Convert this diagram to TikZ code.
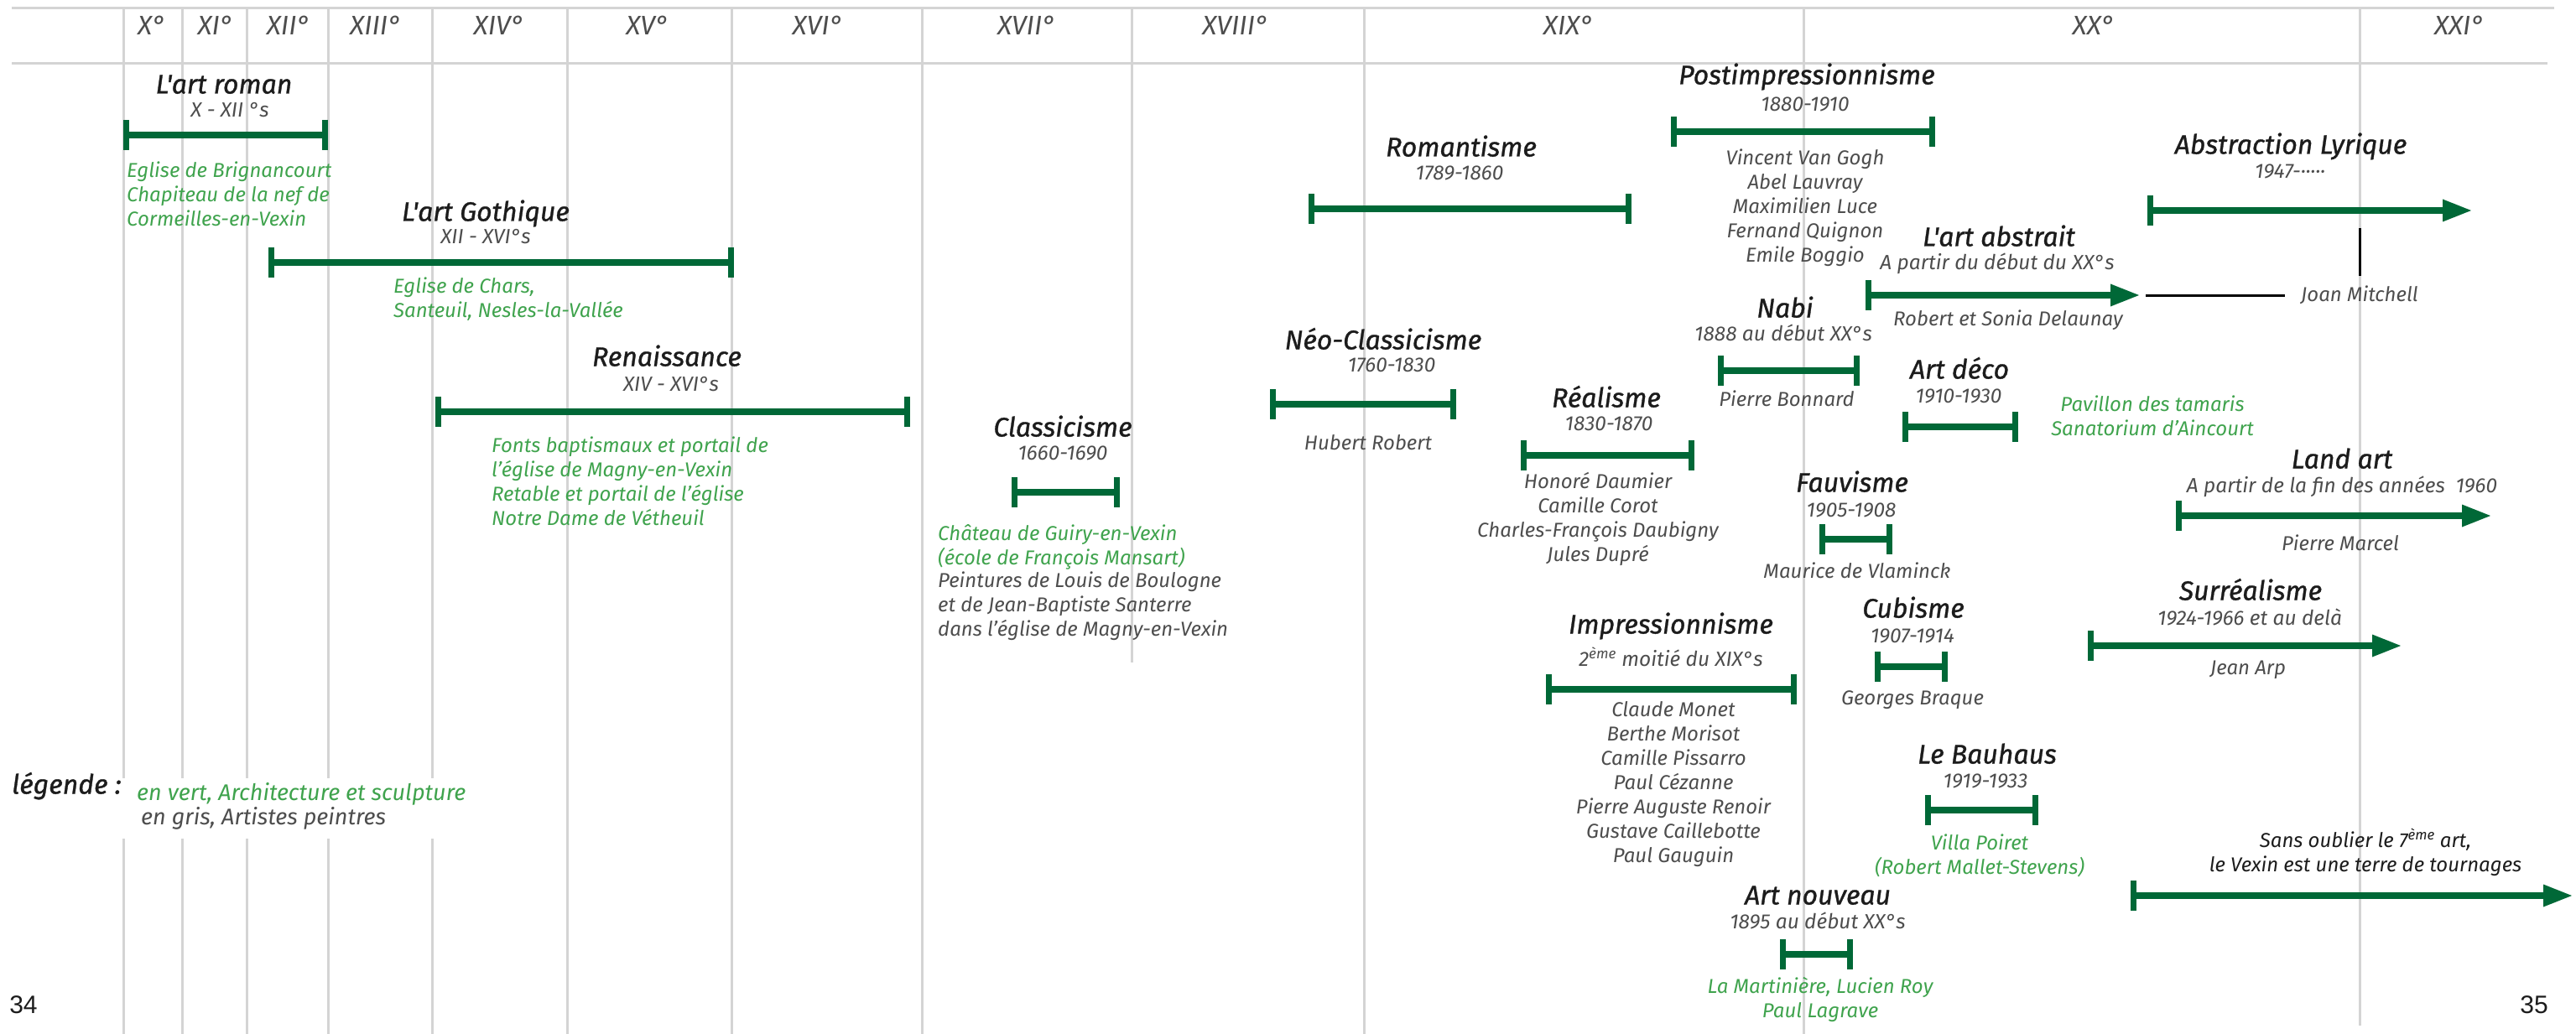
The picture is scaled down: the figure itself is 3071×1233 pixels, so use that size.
\documentclass[tikz,border=0pt]{standalone}
\usepackage{fontspec}
\setmainfont{Fira Sans}
\newfontfamily\grasse{Fira Sans}[FakeBold=1]
\newfontfamily\chiffres{Liberation Sans}
\usetikzlibrary{arrows.meta,calc}

\definecolor{vertfrise}{HTML}{006837}
\definecolor{vertarchi}{HTML}{3FA34D}
\definecolor{grispeint}{HTML}{4D4D4D}
\definecolor{grisgrille}{HTML}{D4D4D4}
\definecolor{noirtitre}{HTML}{1C1C1C}

\tikzset{periode/.style  = {line width=8pt, color=vertfrise,
                            {Bar[width=36pt,line width=7pt]}-{Bar[width=36pt,line width=7pt]}},
         suite/.style    = {line width=8pt, color=vertfrise,
                            {Bar[width=36pt,line width=7pt]}-{Triangle[length=34pt,width=27pt,line width=0pt]}},
         titre/.style    = {inner sep=0pt, text=noirtitre, text height=0.7em, text depth=0pt,
                            font=\grasse\fontsize{32}{36}\selectfont\itshape},
         dates/.style    = {inner sep=0pt, text=grispeint, text height=0.7em, text depth=0pt,
                            font=\fontsize{24.5}{28}\selectfont\itshape},
         peintres/.style = {inner sep=0pt, text=grispeint, align=center,
                            font=\fontsize{24}{29}\selectfont\itshape},
         archi/.style    = {peintres, text=vertarchi},
         legende/.style  = {font=\fontsize{27}{29}\selectfont\itshape},
         siecle/.style   = {inner sep=0pt, text=grispeint, text height=0.7em, text depth=0pt,
                            font=\fontsize{32}{36}\selectfont\itshape},
         numero/.style   = {inner sep=0pt, text=noirtitre, text height=0.72em, text depth=0pt,
                            font=\chiffres\fontsize{30}{34}\selectfont},
         grille/.style   = {line width=3pt, color=grisgrille},
         lien/.style     = {line width=3pt, color=black}
        }

\begin{document}
\begin{tikzpicture}[x=1pt, y=-1pt]
  \useasboundingbox (0, 0) rectangle (3071, 1233);
  % grille des siecles
  \draw[grille] (14, 10) -- (3045, 10);
  \draw[grille] (14, 76) -- (3037, 76);
  \foreach \x in {147, 217, 294, 391, 515, 676, 872, 1099, 1626, 2150}
      {\draw[grille] (\x, 10) -- (\x, 1233);};
  \draw[grille] (1349, 10) -- (1349, 790);
  \draw[grille] (2813, 10) -- (2813, 1223);
  \foreach \x/\s in {181/X, 257/XI, 344/XII, 448/XIII, 595/XIV, 772/XV, 975/XVI,
                     1224/XVII, 1473/XVIII, 1870/XIX, 2496/XX, 2932/XXI}
      {\node[siecle] (s-\s) at (\x, 38) {\s°};};

  % periodes fermees
  \foreach \n/\xa/\xb/\y in {roman/147/391/161, gothique/320/875/313, renaissance/519/1085/491,
                             classicisme/1206/1335/587, neoclass/1514/1736/482, realisme/1813/2020/543,
                             romantisme/1560/1945/249, postimp/1992/2307/157, nabi/2048/2217/442,
                             artdeco/2268/2406/509, fauvisme/2169/2256/643, cubisme/2235/2322/795,
                             impression/1843/2142/822, bauhaus/2295/2430/966, artnouveau/2122/2209/1138}
      {\coordinate (\n-g) at (\xa, \y);
       \coordinate (\n-d) at (\xb, \y);
       \draw[periode] (\n-g) -- (\n-d);};
  % periodes ouvertes
  \foreach \n/\xa/\xb/\y in {abstrait/2224/2550/352, lyrique/2560/2946/251, landart/2594/2969/615,
                             surrealisme/2489/2862/770, cinema/2540/3066/1068}
      {\coordinate (\n-g) at (\xa, \y);
       \coordinate (\n-d) at (\xb, \y);
       \draw[suite] (\n-g) -- (\n-d);};

  % titres et dates
  \foreach \n/\x/\y/\t in {roman/267/108/{L'art roman}, gothique/579/260/{L'art Gothique},
                           renaissance/795/433/{Renaissance}, classicisme/1267/517/{Classicisme},
                           neoclass/1649/413/{Néo-Classicisme}, realisme/1915/482/{Réalisme},
                           romantisme/1742/183/{Romantisme}, postimp/2154/97/{Postimpressionnisme},
                           nabi/2128/375/{Nabi}, artdeco/2336/448/{Art déco},
                           fauvisme/2208/583/{Fauvisme}, cubisme/2281/733/{Cubisme},
                           impression/1992/752/{Impressionnisme}, bauhaus/2369/907/{Le Bauhaus},
                           artnouveau/2167/1075/{Art nouveau}, abstrait/2383/290/{L'art abstrait},
                           lyrique/2731/180/{Abstraction Lyrique}, landart/2792/555/{Land art},
                           surrealisme/2683/712/{Surréalisme}}
      {\node[titre] (\n-titre) at (\x, \y) {\t};};
  \foreach \n/\x/\y/\t in {roman/274/136/{X - XII °s}, gothique/579/287/{XII - XVI°s},
                           renaissance/800/463/{XIV - XVI°s}, classicisme/1267/545/{1660-1690},
                           neoclass/1659/440/{1760-1830}, realisme/1918/510/{1830-1870},
                           romantisme/1740/211/{1789-1860}, postimp/2152/129/{1880-1910},
                           nabi/2126/403/{1888 au début XX°s}, artdeco/2335/477/{1910-1930},
                           fauvisme/2207/613/{1905-1908}, cubisme/2280/763/{1907-1914},
                           impression/1992/791/{2\textsuperscript{ème} moitié du XIX°s},
                           bauhaus/2367/936/{1919-1933}, artnouveau/2167/1104/{1895 au début XX°s},
                           abstrait/2381/318/{A partir du début du XX°s}, lyrique/2730/209/{1947-·····},
                           landart/2792/584/{A partir de la fin des années~ 1960},
                           surrealisme/2682/742/{1924-1966 et au delà}}
      {\node[dates] (\n-dates) at (\x, \y) {\t};};

  % oeuvres et artistes
  \node[archi, align=left, anchor=west] (roman-archi) at (151, 231)
      {Eglise de Brignancourt\\Chapiteau de la nef de\\Cormeilles-en-Vexin};
  \node[archi, align=left, anchor=west] (gothique-archi) at (469, 357)
      {Eglise de Chars,\\Santeuil, Nesles-la-Vallée};
  \node[archi, align=left, anchor=west] (renaissance-archi) at (586, 574)
      {Fonts baptismaux et portail de\\l'église de Magny-en-Vexin\\Retable et portail de l'église\\Notre Dame de Vétheuil};
  \node[archi, align=left, anchor=west] (classicisme-archi) at (1118, 652)
      {Château de Guiry-en-Vexin\\(école de François Mansart)};
  \node[peintres, align=left, anchor=west] (classicisme-peintres) at (1118, 723)
      {Peintures de Louis de Boulogne\\et de Jean-Baptiste Santerre\\dans l'église de Magny-en-Vexin};
  \node[peintres] (neoclass-peintres) at (1631, 528) {Hubert Robert};
  \node[peintres] (realisme-peintres) at (1905, 619)
      {Honoré Daumier\\Camille Corot\\Charles-François Daubigny\\Jules Dupré};
  \node[peintres] (postimp-peintres) at (2152, 248)
      {Vincent Van Gogh\\Abel Lauvray\\Maximilien Luce\\Fernand Quignon\\Emile Boggio};
  \node[peintres] (abstrait-peintres) at (2394, 382) {Robert et Sonia Delaunay};
  \node[peintres] (nabi-peintres) at (2130, 475) {Pierre Bonnard};
  \node[archi] (artdeco-archi) at (2566, 496) {Pavillon des tamaris\\Sanatorium d'Aincourt};
  \node[peintres] (fauvisme-peintres) at (2214, 680) {Maurice de Vlaminck};
  \node[peintres] (landart-peintres) at (2790, 647) {Pierre Marcel};
  \node[peintres] (cubisme-peintres) at (2280, 835) {Georges Braque};
  \node[peintres] (surrealisme-peintres) at (2680, 799) {Jean Arp};
  \node[peintres] (impression-peintres) at (1995, 935)
      {Claude Monet\\Berthe Morisot\\Camille Pissarro\\Paul Cézanne\\Pierre Auguste Renoir\\Gustave Caillebotte\\Paul Gauguin};
  \node[archi] (bauhaus-archi) at (2360, 1020) {Villa Poiret\\(Robert Mallet-Stevens)};
  \node[archi] (artnouveau-archi) at (2170, 1192) {La Martinière, Lucien Roy\\Paul Lagrave};
  \node[peintres, text=noirtitre] (cinema-texte) at (2820, 1016)
      {Sans oublier le 7\textsuperscript{ème} art,\\le Vexin est une terre de tournages};

  % Joan Mitchell, entre deux courants
  \node[peintres, anchor=west] (joan) at (2743, 352) {Joan Mitchell};
  \coordinate (lyrique-pied) at (2813, 272);
  \draw[lien] ([xshift=8pt]abstrait-d) -- ([xshift=-19pt]joan.west);
  \draw[lien] (lyrique-pied) -- ([yshift=12pt]joan.north -| lyrique-pied);

  % legende
  \fill[white] (0, 928) rectangle (560, 1000);
  \node[titre, anchor=west] (legende) at (14, 943) {légende :};
  \node[archi, legende, anchor=west] (legende-vert) at (163, 947) {en vert, Architecture et sculpture};
  \node[peintres, legende, anchor=west] (legende-gris) at (168, 976) {en gris, Artistes peintres};

  % numeros de page
  \node[numero] (page-g) at (28, 1205) {34};
  \node[numero] (page-d) at (3021, 1205) {35};
\end{tikzpicture}
\end{document}
